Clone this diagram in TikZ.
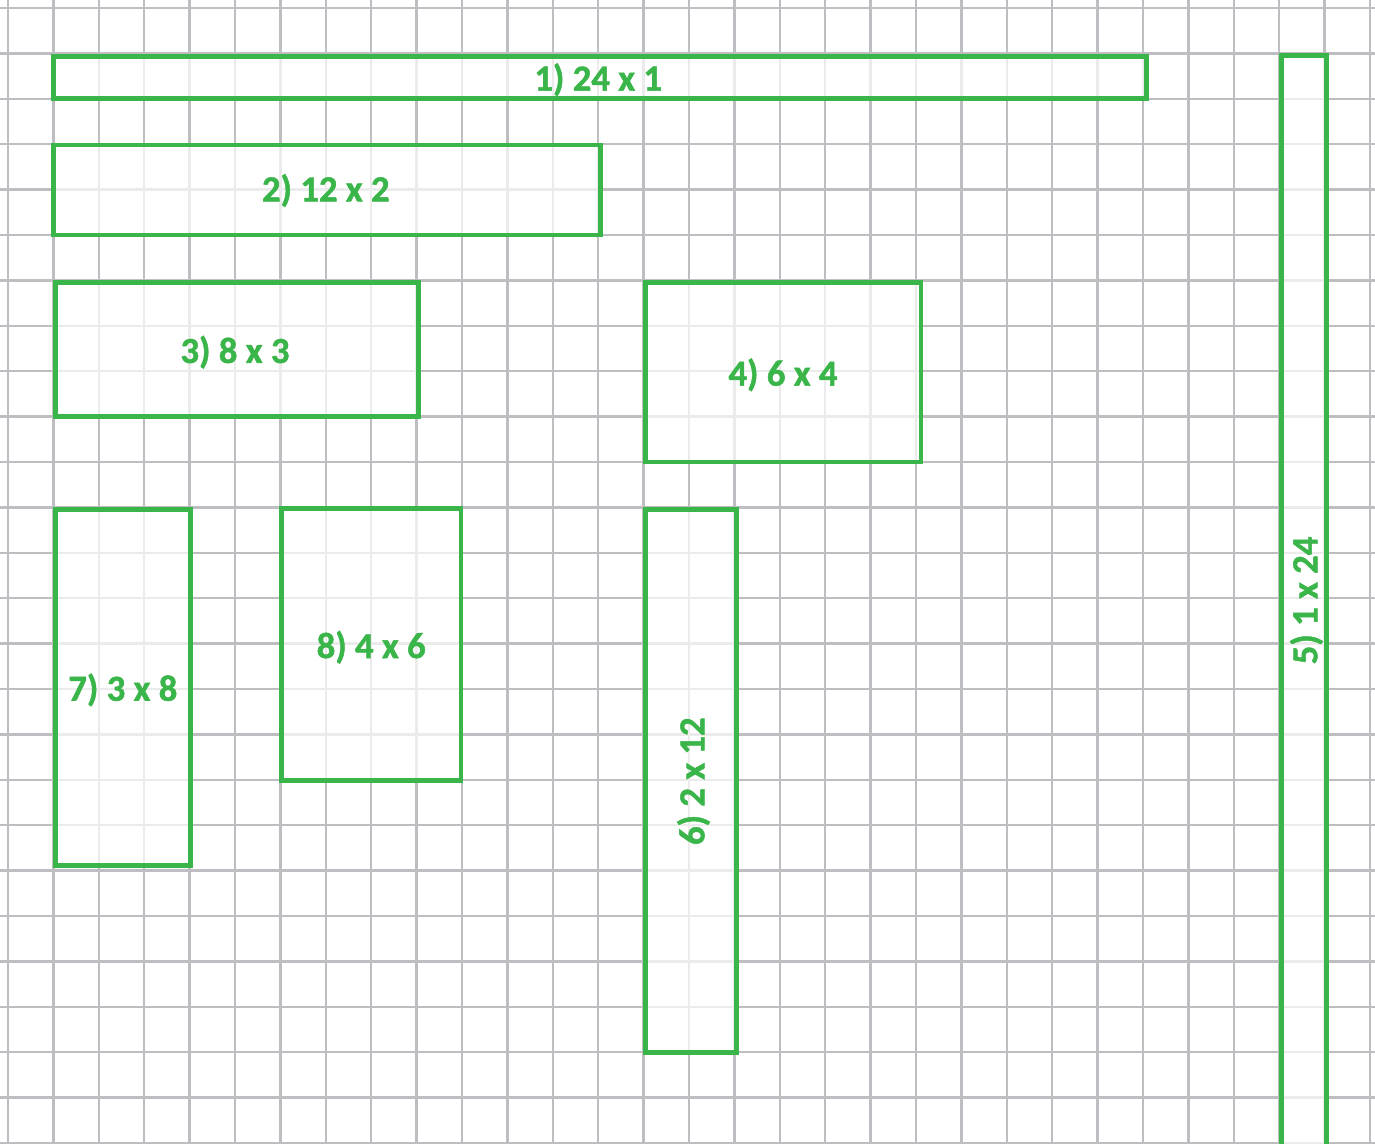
\documentclass[tikz,border=0pt]{standalone}
\usepackage{fontspec}
\setmainfont{Carlito}[BoldFeatures={FakeBold=1.3}]
\usepackage{xcolor}
\usepackage{tikz}
\usetikzlibrary{positioning}
\definecolor{verdeBox}{RGB}{58,181,74}
\definecolor{grisGrid}{RGB}{190,190,194}

\tikzset{
  gridline/.style={draw=grisGrid, line width=1.6pt},
  cellbox/.style={draw=verdeBox, fill=white, fill opacity=0.7, line width=3pt},
  boxlabel/.style={text=verdeBox, font=\fontsize{23}{27}\selectfont\bfseries, inner sep=0pt}
}

\begin{document}
\begin{tikzpicture}
  \useasboundingbox (-0.176,-25) rectangle (30.11,0.176);
  % Squared paper
  \draw[gridline, step=1] (-0.5,-25.5) grid (30.6,0.6);
  % Top rows
  \filldraw[cellbox] (1,-1.07) rectangle (25.08,-2);
  \node[boxlabel] (lblA) at (13,-1.58) {1) 24 x 1};
  \filldraw[cellbox] (1,-3.02) rectangle (13.05,-5);
  \node[boxlabel] (lblB) at (7,-4.02) {2) 12 x 2};
  \filldraw[cellbox] (1.04,-6.05) rectangle (9.05,-9);
  \node[boxlabel] (lblC) at (5,-7.58) {3) 8 x 3};
  \filldraw[cellbox] (14.05,-6.05) rectangle (20.11,-10);
  \node[boxlabel] (lblD) at (17.07,-8.08) {4) 6 x 4};
  % Right column (vertical)
  \filldraw[cellbox] (28.05,-1.04) rectangle (29.05,-25.5);
  \node[boxlabel, rotate=90] (lblE) at (28.6,-13.05) {5) 1 x 24};
  % Lower row
  \filldraw[cellbox] (14.04,-11.05) rectangle (16.05,-23);
  \node[boxlabel, rotate=90] (lblF) at (15.1,-17.03) {6) 2 x 12};
  \filldraw[cellbox] (1.04,-11.05) rectangle (4.02,-18.88);
  \node[boxlabel] (lblG) at (2.53,-15.02) {7) 3 x 8};
  \filldraw[cellbox] (6.02,-11.02) rectangle (9.98,-17.02);
  \node[boxlabel] (lblH) at (8,-14.08) {8) 4 x 6};
\end{tikzpicture}
\end{document}
